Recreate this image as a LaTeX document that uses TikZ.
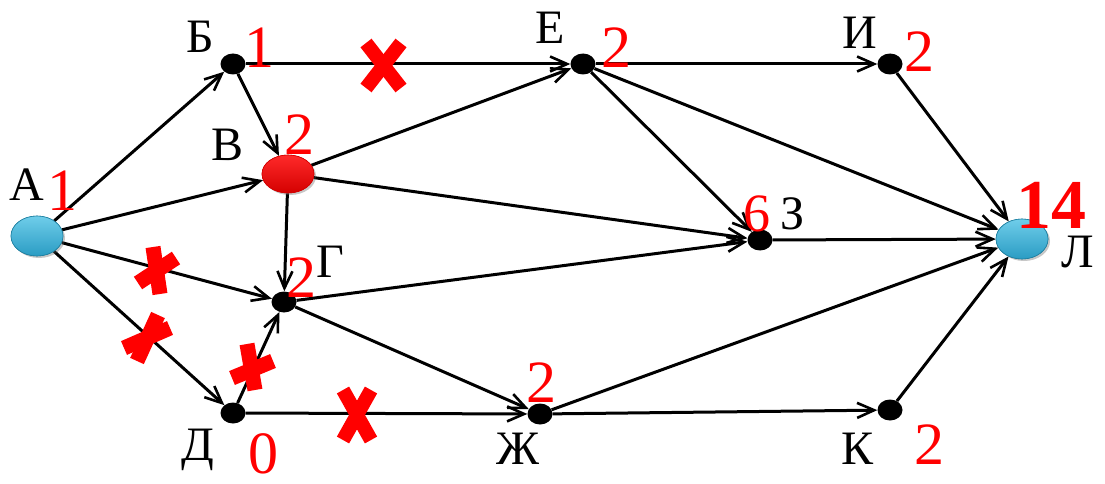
\documentclass[tikz,border=0pt]{standalone}
\usepackage{fontspec}
\IfFontExistsTF{LiberationSerif-Regular.ttf}
  {\newfontfamily\tms{LiberationSerif}[Extension=.ttf,UprightFont=*-Regular,BoldFont=*-Bold]}
  {\newfontfamily\tms{DejaVu Serif}}
\usetikzlibrary{arrows.meta,shapes.geometric,shadows}
\definecolor{balltop}{HTML}{6FCDEA}
\definecolor{ballbot}{HTML}{2A9CC3}
\definecolor{balledge}{HTML}{1E7FA0}
\definecolor{redtop}{HTML}{FF2A2A}
\definecolor{redbot}{HTML}{D40000}
\begin{document}
\begin{tikzpicture}[x=1pt,y=-1pt,
  dot/.style={ellipse,fill=black,minimum width=25pt,minimum height=21pt,inner sep=0pt},
  bluenode/.style={ellipse,minimum width=52pt,minimum height=40pt,inner sep=0pt,
    top color=balltop,bottom color=ballbot,draw=balledge,line width=0.6pt,
    drop shadow={opacity=0.25,shadow xshift=2pt,shadow yshift=-2pt}},
  rednode/.style={ellipse,minimum width=52pt,minimum height=38pt,inner sep=0pt,
    top color=redtop,bottom color=redbot,draw=redbot,line width=0.6pt,
    drop shadow={opacity=0.25,shadow xshift=2pt,shadow yshift=-2pt}},
  edge/.style={line width=3pt,-{Straight Barb[length=17pt,width=15pt,line width=2.6pt]}},
  lbl/.style={inner sep=0pt,font=\tms\fontsize{48}{48}\selectfont},
  num/.style={inner sep=0pt,text=red,font=\tms\fontsize{60}{60}\selectfont},
  bignum/.style={inner sep=0pt,text=red,font=\tms\bfseries\fontsize{70}{70}\selectfont},
  xline/.style={red,line width=15pt}
]
\useasboundingbox (0,0) rectangle (1105,484);

% vertices
\node[bluenode] (A) at (37,236) {};
\node[dot] (B) at (233,64) {};
\node[rednode] (V) at (288,174) {};
\node[dot] (G) at (284,302) {};
\node[dot] (D) at (233,413) {};
\node[dot] (E) at (583,64) {};
\node[dot] (Zh) at (540,414) {};
\node[dot] (Z) at (760,240) {};
\node[dot] (I) at (890,64) {};
\node[dot] (K) at (890,410) {};
\node[bluenode] (L) at (1022,239) {};

% edges
\draw[edge] (A) -- (B);
\draw[edge] (A) -- (V);
\draw[edge] (A) -- (G);
\draw[edge] (A) -- (D);
\draw[edge] (B) -- (V);
\draw[edge] (B) -- (E);
\draw[edge] (V) -- (E);
\draw[edge] (V) -- (Z);
\draw[edge] (V) -- (G);
\draw[edge] (G) -- (Z);
\draw[edge] (G) -- (Zh);
\draw[edge] (D) -- (G);
\draw[edge] (D) -- (Zh);
\draw[edge] (E) -- (I);
\draw[edge] (E) -- (Z);
\draw[edge] (E) -- (L);
\draw[edge] (I) -- (L);
\draw[edge] (Z) -- (L);
\draw[edge] (Zh) -- (L);
\draw[edge] (Zh) -- (K);
\draw[edge] (K) -- (L);

% redraw vertices on top of edges
\node[bluenode] at (A) {};
\node[rednode] at (V) {};
\node[bluenode] at (L) {};

% letters
\node[lbl] (tA) at (27,185) {А};
\node[lbl] (tB) at (200,37) {Б};
\node[lbl] (tV) at (228,145) {В};
\node[lbl] (tG) at (330,262) {Г};
\node[lbl] (tD) at (198,450) {Д};
\node[lbl] (tE) at (550,28) {Е};
\node[lbl] (tZh) at (518,449) {Ж};
\node[lbl] (tZ) at (793,214) {З};
\node[lbl] (tI) at (860,33) {И};
\node[lbl] (tK) at (857,449) {К};
\node[lbl] (tL) at (1078,252) {Л};

% red numbers
\node[num] (nA) at (62,191) {1};
\node[num] (nB) at (259,48) {1};
\node[num] (nV) at (299,135) {2};
\node[num] (nG) at (301,278) {2};
\node[num] (nD) at (263,454) {0};
\node[num] (nE) at (616,48) {2};
\node[num] (nZh) at (541,383) {2};
\node[num] (nI) at (919,52) {2};
\node[num,font=\tms\fontsize{54}{54}\selectfont] (nZ) at (757,214) {6};
\node[num] (nK) at (929,445) {2};
\node[bignum] (nL) at (1051,205) {14};

% red crosses
\draw[xline,line width=14pt] (366,43) -- (401,88);
\draw[xline,line width=14pt] (401,43) -- (366,88);
\draw[xline,line width=14pt] (343,390) -- (371,440);
\draw[xline,line width=14pt] (371,390) -- (343,440);
\draw[xline] (138,283) -- (176,258);
\draw[xline] (153,247) -- (160,294);
\draw[xline] (124,348) -- (170,328);
\draw[xline] (158,315) -- (137,361);
\draw[xline] (232,378) -- (273,361);
\draw[xline] (247,344) -- (255,390);
\end{tikzpicture}
\end{document}
